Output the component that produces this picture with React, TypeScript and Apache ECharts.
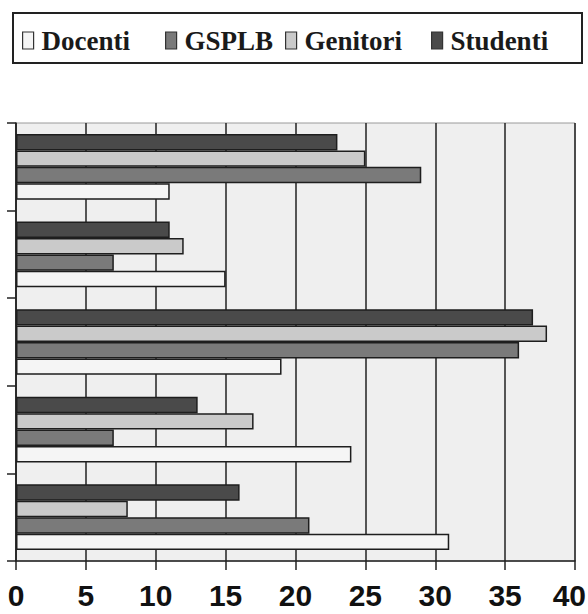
import React, { useEffect, useRef } from "react";
import * as echarts from "echarts";

const categories = ["1", "2", "3", "4", "5"];
const seriesNames = ["Docenti", "GSPLB", "Genitori", "Studenti"];
const docenti = [11, 15, 19, 24, 31];
const gsplb = [29, 7, 36, 7, 21];
const genitori = [25, 12, 38, 17, 8];
const studenti = [23, 11, 37, 13, 16];
const xTicks = [0, 40, 5];

const colors: Record<string, string> = {
  Docenti: "#f5f5f5",
  GSPLB: "#7a7a7a",
  Genitori: "#cacaca",
  Studenti: "#4a4a4a",
};

const legendLefts = [22, 165, 285, 431];

const labelFont = {
  fontFamily: "'Liberation Sans', Arial, sans-serif",
  fontWeight: "bold",
  fontSize: 30,
  lineHeight: 32,
  color: "#111",
};

export default function App() {
  const ref = useRef<HTMLDivElement>(null);
  useEffect(() => {
    if (!ref.current) return;
    const chart = echarts.init(ref.current, null, { renderer: "svg" });
    const dataMap: Record<string, number[]> = {
      Docenti: docenti,
      GSPLB: gsplb,
      Genitori: genitori,
      Studenti: studenti,
    };
    // top-to-bottom order within a group: Studenti, Genitori, GSPLB, Docenti
    const drawOrder = ["Studenti", "Genitori", "GSPLB", "Docenti"];
    const series = drawOrder.map((name) => ({
      name,
      type: "bar",
      data: dataMap[name],
      barGap: "0%",
      barCategoryGap: "25%",
      itemStyle: {
        color: colors[name],
        borderColor: "#1e1e1e",
        borderWidth: 1.5,
      },
      emphasis: { disabled: true },
    }));
    const legends = seriesNames.map((name, i) => ({
      data: [name],
      left: legendLefts[i],
      top: 27,
      padding: 0,
      itemWidth: 11,
      itemHeight: 17,
      icon: "rect",
      selectedMode: false,
      itemStyle: { borderColor: "#333", borderWidth: 1.2 },
      textStyle: {
        fontFamily: "'Liberation Serif', 'DejaVu Serif', serif",
        fontSize: 27,
        fontWeight: "bold",
        color: "#1a1a1a",
        padding: [0, 0, 0, 3],
      },
    }));
    chart.setOption({
      animation: false,
      backgroundColor: "#ffffff",
      legend: legends,
      graphic: [
        {
          type: "rect",
          shape: { x: 13, y: 13, width: 569, height: 50 },
          style: { fill: "none", stroke: "#222", lineWidth: 2 },
          silent: true,
        },
      ],
      grid: {
        left: 16,
        right: 13,
        top: 123,
        bottom: 53,
        containLabel: false,
        outerBoundsMode: "none",
        show: true,
        backgroundColor: "#efefef",
        borderColor: "#9a9a9a",
        borderWidth: 1,
      },
      xAxis: {
        type: "value",
        min: xTicks[0],
        max: xTicks[1],
        interval: xTicks[2],
        axisLine: { show: true, lineStyle: { color: "#222", width: 1.5 } },
        axisTick: { show: true, length: 9, lineStyle: { color: "#222", width: 1.5 } },
        splitLine: { show: true, lineStyle: { color: "#222", width: 1.5 } },
        axisLabel: {
          margin: 18,
          ...labelFont,
          formatter: (v: number) => (v === xTicks[1] ? `{last|${v}}` : `${v}`),
          rich: {
            last: { ...labelFont, width: 22, align: "right" },
          },
        },
      },
      yAxis: {
        type: "category",
        data: categories,
        inverse: true,
        axisLine: { show: true, lineStyle: { color: "#222", width: 1.5 } },
        axisTick: { show: true, length: 9, lineStyle: { color: "#222", width: 1.5 } },
        axisLabel: { show: false },
        splitLine: { show: false },
      },
      series,
    });
    return () => chart.dispose();
  }, []);
  return (
    <div
      ref={ref}
      style={{ position: "fixed", left: 0, top: 0, width: 588, height: 614 }}
    />
  );
}
